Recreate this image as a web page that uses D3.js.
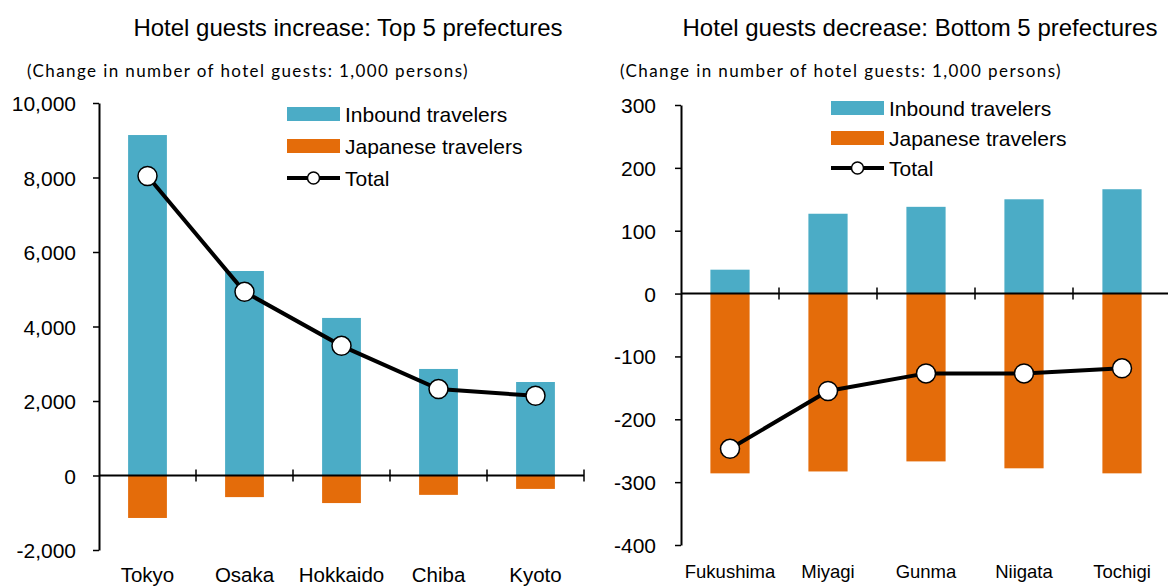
<!DOCTYPE html>
<html>
<head>
<meta charset="utf-8">
<script src="https://cdn.jsdelivr.net/npm/d3@7"></script>
<style>
  body { margin: 0; background: #fff; }
  svg { display: block; }
  text { font-family: "Liberation Sans", Arial, sans-serif; fill: #000; }
  .sub { font-family: Lato, "Open Sans", sans-serif; }
</style>
</head>
<body>
<svg width="1168" height="587"></svg>
<script>
// left panel data (1,000 persons)
var topNames = ["Tokyo", "Osaka", "Hokkaido", "Chiba", "Kyoto"]
var topInbound = [9140, 5490, 4230, 2860, 2510]
var topJapanese = [-1140, -580, -740, -520, -360]
var topTotal = [8040, 4930, 3480, 2320, 2140]
var topTicks = [-2000, 0, 2000, 4000, 6000, 8000, 10000]

// right panel data
var botNames = ["Fukushima", "Miyagi", "Gunma", "Niigata", "Tochigi"]
var botInbound = [38, 127, 138, 150, 166]
var botJapanese = [-286, -283, -267, -278, -286]
var botTotal = [-247, -155, -127, -127, -119]
var botTicks = [-400, -300, -200, -100, 0, 100, 200, 300]

var legendNames = ["Inbound travelers", "Japanese travelers", "Total"]
var blue = "#4BACC6", orange = "#E46C0A"

var svg = d3.select("svg")
var fmt = function (d) { return d3.format(",")(d).replace("\u2212", "-") }

function drawPanel(o) {
    var g = svg.append("g")
    var x = d3.scaleBand().domain(o.names).range([o.x0, o.x1]).paddingInner(0).paddingOuter(0)
    var y = d3.scaleLinear().domain([o.ticks[0], o.ticks[o.ticks.length - 1]]).range([o.y0, o.y1])
    var bw = x.bandwidth() * 0.4

    // title + unit note
    g.append("text").attr("x", o.titleX).attr("y", 36).attr("text-anchor", "middle")
        .style("font-size", "24px").text(o.title)
    g.append("text").attr("class", "sub").attr("x", o.subX).attr("y", 77)
        .style("font-size", "17px").style("letter-spacing", "1.4px")
        .text("(Change in number of hotel guests: 1,000 persons)")

    // bars
    g.selectAll(".inb").data(o.inbound).enter().append("rect")
        .attr("x", function (d, i) { return x(o.names[i]) + (x.bandwidth() - bw) / 2 })
        .attr("y", function (d) { return y(d) })
        .attr("width", bw)
        .attr("height", function (d) { return y(0) - y(d) })
        .attr("fill", blue)
    g.selectAll(".jp").data(o.japanese).enter().append("rect")
        .attr("x", function (d, i) { return x(o.names[i]) + (x.bandwidth() - bw) / 2 })
        .attr("y", y(0))
        .attr("width", bw)
        .attr("height", function (d) { return y(d) - y(0) })
        .attr("fill", orange)

    // y axis
    var yAxis = d3.axisLeft(y).tickValues(o.ticks).tickSize(6).tickSizeOuter(0).tickFormat(fmt)
    var ya = g.append("g").attr("transform", "translate(" + o.x0 + ",0)").call(yAxis)
    ya.select(".domain").attr("stroke", "#000").attr("stroke-width", 2)
    ya.selectAll(".tick line").attr("stroke", "#000").attr("stroke-width", 1.5)
    ya.selectAll(".tick text").attr("x", o.tickDx).attr("dy", "0.36em")
        .style("font-size", "21px").style("font-family", "Liberation Sans, Arial, sans-serif")

    // zero line with category ticks
    g.append("line").attr("x1", o.x0).attr("x2", o.x1).attr("y1", y(0)).attr("y2", y(0))
        .attr("stroke", "#000").attr("stroke-width", 2)
    g.selectAll(".ct").data(o.names).enter().append("line")
        .attr("x1", function (d) { return x(d) + x.bandwidth() })
        .attr("x2", function (d) { return x(d) + x.bandwidth() })
        .attr("y1", y(0) - 6).attr("y2", y(0) + 6)
        .attr("stroke", "#000").attr("stroke-width", 1.5)

    // category labels
    g.selectAll(".cl").data(o.names).enter().append("text")
        .attr("x", function (d) { return x(d) + x.bandwidth() / 2 })
        .attr("y", o.labelY).attr("text-anchor", "middle")
        .style("font-size", o.labelSize).text(function (d) { return d })

    // total line
    var line = d3.line()
        .x(function (d, i) { return x(o.names[i]) + x.bandwidth() / 2 })
        .y(function (d) { return y(d) })
    g.append("path").attr("d", line(o.total)).attr("fill", "none")
        .attr("stroke", "#000").attr("stroke-width", 4)
    g.selectAll(".dot").data(o.total).enter().append("circle")
        .attr("cx", function (d, i) { return x(o.names[i]) + x.bandwidth() / 2 })
        .attr("cy", function (d) { return y(d) })
        .attr("r", 9.5).attr("fill", "#fff").attr("stroke", "#000").attr("stroke-width", 1.5)

    // legend
    var lg = g.append("g").attr("transform", "translate(" + o.legX + "," + o.legY + ")")
    lg.append("rect").attr("x", 0).attr("y", -7).attr("width", 53).attr("height", 14).attr("fill", blue)
    lg.append("rect").attr("x", 0).attr("y", o.legGap - 7).attr("width", 53).attr("height", 14).attr("fill", orange)
    lg.append("line").attr("x1", 0).attr("x2", 53).attr("y1", o.legGap * 2).attr("y2", o.legGap * 2)
        .attr("stroke", "#000").attr("stroke-width", 4)
    lg.append("circle").attr("cx", 26.5).attr("cy", o.legGap * 2).attr("r", 6)
        .attr("fill", "#fff").attr("stroke", "#000").attr("stroke-width", 1.5)
    lg.selectAll(".lt").data(legendNames).enter().append("text")
        .attr("x", 58).attr("y", function (d, i) { return i * o.legGap })
        .attr("dy", "0.36em").style("font-size", "21px").text(function (d) { return d })
}

drawPanel({
    title: "Hotel guests increase: Top 5 prefectures", titleX: 348, subX: 27,
    names: topNames, inbound: topInbound, japanese: topJapanese, total: topTotal, ticks: topTicks,
    x0: 99, x1: 584, y0: 550, y1: 103, labelY: 582, labelSize: "20.5px", tickDx: -23,
    legX: 287, legY: 114, legGap: 32
})
drawPanel({
    title: "Hotel guests decrease: Bottom 5 prefectures", titleX: 920, subX: 620,
    names: botNames, inbound: botInbound, japanese: botJapanese, total: botTotal, ticks: botTicks,
    x0: 681, x1: 1171, y0: 545, y1: 105, labelY: 578, labelSize: "18.5px", tickDx: -25,
    legX: 831, legY: 108, legGap: 30
})
</script>
</body>
</html>
